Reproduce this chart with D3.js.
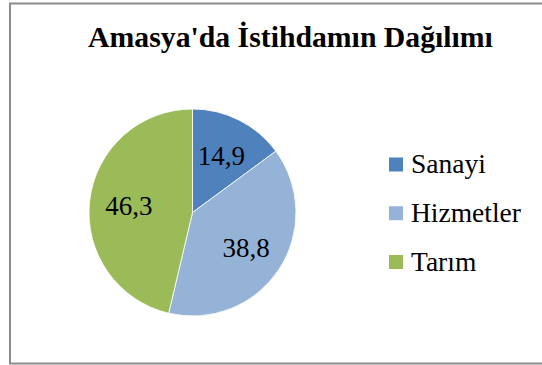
<!DOCTYPE html>
<html>
<head>
<meta charset="utf-8">
<script src="https://cdn.jsdelivr.net/npm/d3@7"></script>
<style>
  html, body { margin: 0; padding: 0; background: #fff; }
  svg { display: block; }
  text { font-family: "Liberation Serif", "DejaVu Serif", serif; fill: #000; }
</style>
</head>
<body>
<svg id="chart" width="542" height="365"></svg>
<script>
// Employment distribution in Amasya by sector (%)
const categories = ["Sanayi", "Hizmetler", "Tarım"];
const values = [14.9, 38.8, 46.3];
const colors = ["#4F81BD", "#95B3D7", "#9BBB59"];
const valueLabels = ["14,9", "38,8", "46,3"];
const title = "Amasya'da İstihdamın Dağılımı";

const svg = d3.select("#chart");
const W = 542, H = 365;

// outer frame
svg.append("rect")
  .attr("x", 10).attr("y", 3.5)
  .attr("width", W).attr("height", 360)
  .attr("fill", "#fff")
  .attr("stroke", "#8c8c8c")
  .attr("stroke-width", 2);

// title, fitted to its intended width
const titleEl = svg.append("text")
  .attr("x", 290.5).attr("y", 47)
  .attr("text-anchor", "middle")
  .attr("font-weight", "bold")
  .attr("font-size", 26)
  .text(title);
const tw = titleEl.node().getComputedTextLength();
titleEl.attr("font-size", 26 * 405 / tw);

// pie
const cx = 192.5, cy = 212.5, r = 103.5;
const pie = d3.pie().sort(null).value(d => d)(values);
const arc = d3.arc().innerRadius(0).outerRadius(r);
const labelArc = d3.arc().innerRadius(r * 0.62).outerRadius(r * 0.62);

const g = svg.append("g").attr("transform", `translate(${cx},${cy})`);
g.selectAll("path")
  .data(pie)
  .join("path")
  .attr("d", arc)
  .attr("fill", (d, i) => colors[i])
  .attr("stroke", "#fff")
  .attr("stroke-width", 0.8);

g.selectAll("text.val")
  .data(pie)
  .join("text")
  .attr("class", "val")
  .attr("transform", d => `translate(${labelArc.centroid(d)})`)
  .attr("text-anchor", "middle")
  .attr("dy", "0.35em")
  .attr("font-size", 27)
  .text((d, i) => valueLabels[i]);

// legend
const legendY = d3.scalePoint().domain(categories).range([164.5, 262]);
const lg = svg.append("g");
const items = lg.selectAll("g")
  .data(categories)
  .join("g")
  .attr("transform", d => `translate(389,${legendY(d)})`);
items.append("rect")
  .attr("x", 0).attr("y", -7)
  .attr("width", 14).attr("height", 14)
  .attr("fill", (d, i) => colors[i]);
items.append("text")
  .attr("x", 22).attr("y", 8.5)
  .attr("font-size", 27.5)
  .text(d => d);
</script>
</body>
</html>
